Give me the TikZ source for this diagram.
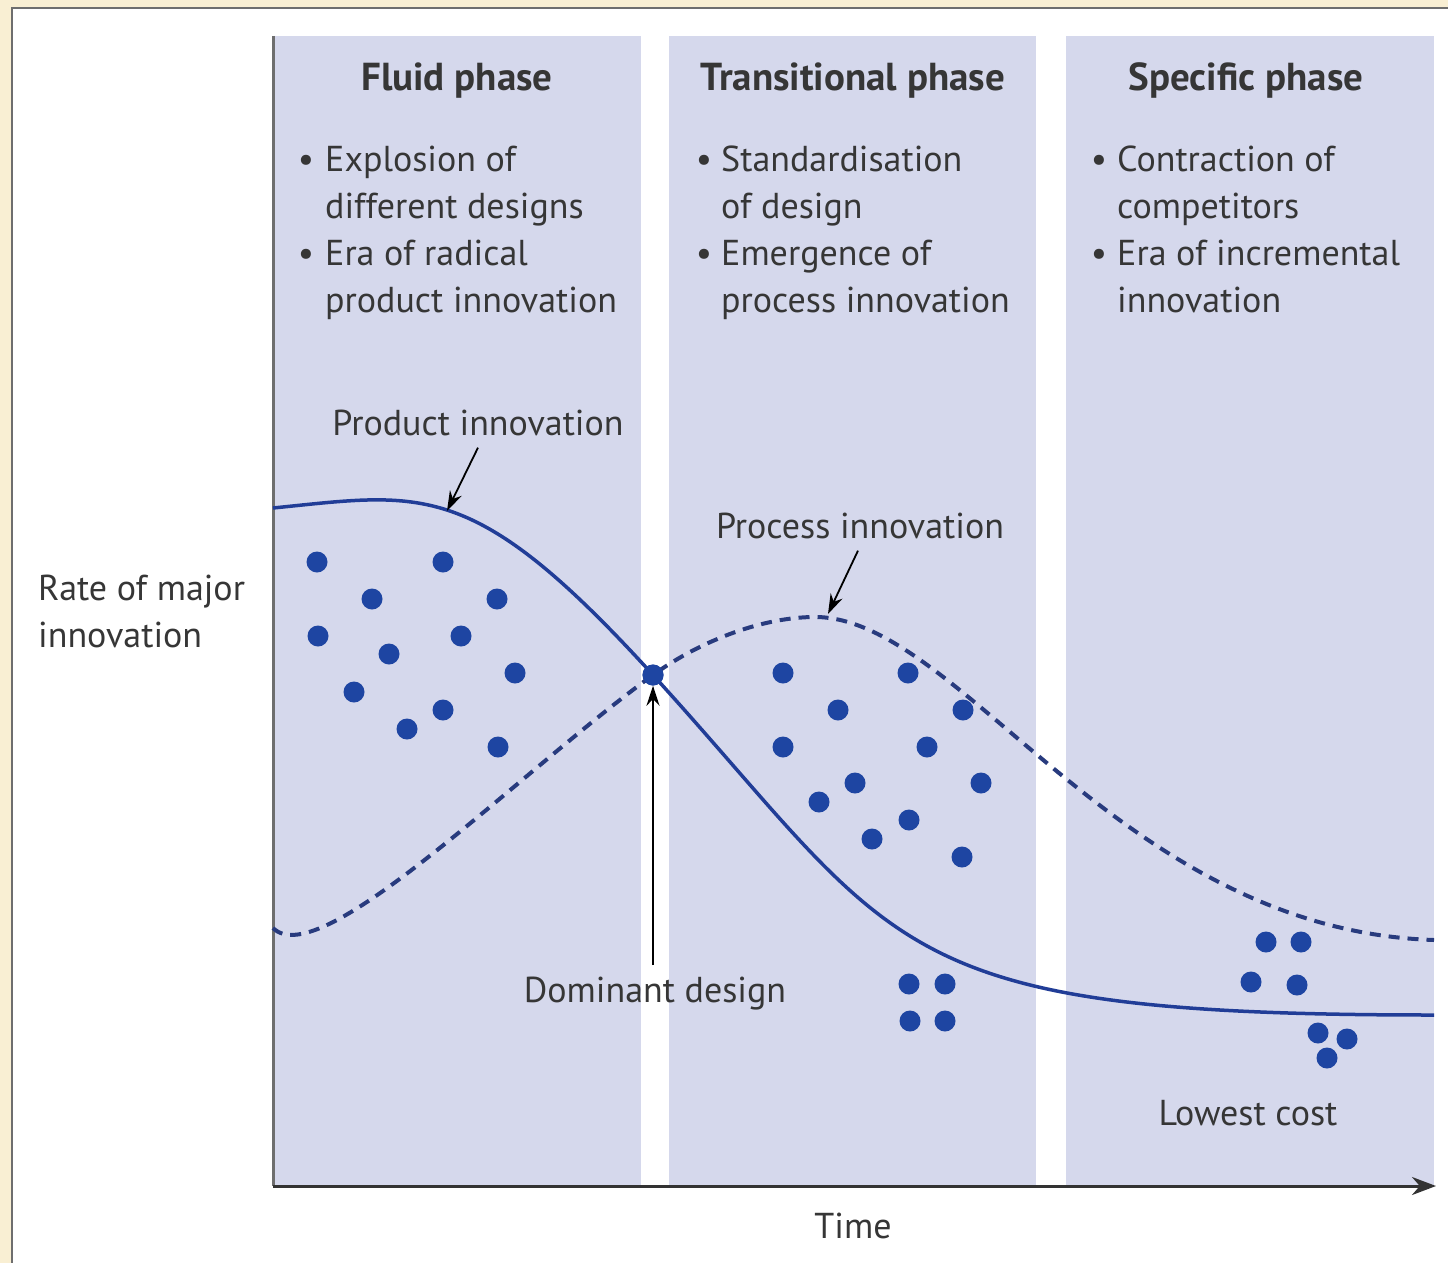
\documentclass[tikz,border=0pt]{standalone}
\usepackage{fontspec}
\setmainfont{PT Sans}
\usetikzlibrary{arrows.meta}
\definecolor{cream}{HTML}{F9EFD3}
\definecolor{band}{HTML}{D5D8EC}
\definecolor{dotblue}{HTML}{1E45A2}
\definecolor{curveblue}{HTML}{213D97}
\definecolor{dashblue}{HTML}{283B7E}
\definecolor{txt}{HTML}{363636}
\definecolor{framegray}{HTML}{6E6E6E}
\tikzset{
  body/.style={font=\fontsize{36}{45}\selectfont, text=txt, inner sep=0pt},
  title/.style={font=\fontsize{39}{46}\selectfont\bfseries, text=txt, inner sep=0pt},
  bandbox/.style={fill=band, draw=none},
  bigdot/.style={circle, fill=dotblue, minimum size=21pt, inner sep=0pt},
  prodcurve/.style={draw=curveblue, line width=3.5pt},
  proccurve/.style={draw=dashblue, line width=4pt, dash pattern=on 11pt off 8pt},
  pointer/.style={draw=black, line width=1.8pt, -{Stealth[length=20pt,width=13pt]}},
  axisline/.style={draw=framegray, line width=3pt},
}
\begin{document}
\begin{tikzpicture}[x=1pt,y=-1pt]
\useasboundingbox (0,0) rectangle (1448,1263);
\fill[cream] (0,0) rectangle (1448,1263);
\fill[white] (12,8) rectangle (1448,1263);
\draw[framegray, line width=2.5pt] (12,1263) -- (12,8) -- (1448,8);
% bands
\fill[bandbox] (273,36) rectangle (641,1186);
\fill[bandbox] (669,36) rectangle (1036,1186);
\fill[bandbox] (1066,36) rectangle (1434,1186);
% titles
\node[title, anchor=base] (t1) at (457,90) {Fluid phase};
\node[title, anchor=base] (t2) at (853,90) {Transitional phase};
\node[title, anchor=base] (t3) at (1246,90) {Specific phase};
% bullets band 1
\node[body, anchor=base] (b1a) at (306,171) {•};
\node[body, anchor=base west] (l1a) at (325,171) {Explosion of};
\node[body, anchor=base west] (l1b) at (325,218) {different designs};
\node[body, anchor=base] (b1b) at (306,265) {•};
\node[body, anchor=base west] (l1c) at (325,265) {Era of radical};
\node[body, anchor=base west] (l1d) at (325,312) {product innovation};
% bullets band 2
\node[body, anchor=base] (b2a) at (704,171) {•};
\node[body, anchor=base west] (l2a) at (721,171) {Standardisation};
\node[body, anchor=base west] (l2b) at (721,218) {of design};
\node[body, anchor=base] (b2b) at (704,265) {•};
\node[body, anchor=base west] (l2c) at (721,265) {Emergence of};
\node[body, anchor=base west] (l2d) at (721,312) {process innovation};
% bullets band 3
\node[body, anchor=base] (b3a) at (1099,171) {•};
\node[body, anchor=base west] (l3a) at (1117,171) {Contraction of};
\node[body, anchor=base west] (l3b) at (1117,218) {competitors};
\node[body, anchor=base] (b3b) at (1099,265) {•};
\node[body, anchor=base west] (l3c) at (1117,265) {Era of incremental};
\node[body, anchor=base west] (l3d) at (1117,312) {innovation};
% y label
\node[body, anchor=base west] (y1) at (38,600) {Rate of major};
\node[body, anchor=base west] (y2) at (38,647) {innovation};
% axes
\draw[axisline] (273,36) -- (273,1186);
\coordinate (xend) at (1436,1186);
\coordinate (orig) at (273,1186);
\draw[axisline, draw=black!80, -{Stealth[length=24pt,width=18pt]}] (orig) -- (xend);
\node[body, anchor=base] (time) at (853,1238) {Time};
% curves
\node[bigdot] (dd) at (653,675) {};
\draw[proccurve] (273,928) .. controls (320,975) and (520,771) .. (dd.center)
  .. controls (703,639) and (765,617) .. (815,617)
  .. controls (960,617) and (1120,930) .. (1434,940);
\draw[prodcurve] (273,508) .. controls (423,493) and (473,477) .. (dd.center)
  .. controls (903,950) and (884,1015) .. (1434,1015);
\node[bigdot] (dd2) at (653,675) {};
% labels with pointers
\node[body, anchor=base] (prodlab) at (478,435) {Product innovation};
\coordinate (prodtip) at (447,511);
\draw[pointer] (prodlab.south) ++(0,-12pt) -- (prodtip);
\node[body, anchor=base] (proclab) at (860,538) {Process innovation};
\coordinate (proctip) at (828,614);
\draw[pointer] (proclab.south) ++(-2pt,-12pt) -- (proctip);
\node[body, anchor=base] (ddlab) at (655,1002) {Dominant design};
\draw[pointer] (653,965) -- (dd2.south);
\node[body, anchor=base] (lowest) at (1248,1125) {Lowest cost};
% dots fluid
\foreach \i/\x/\y in {1/317/562, 2/443/562, 3/372/599, 4/497/599, 5/318/636, 6/461/636, 7/389/654, 8/515/673, 9/354/692, 10/443/710, 11/407/729, 12/498/747}
  \node[bigdot] (fd\i) at (\x,\y) {};
% dots transitional
\foreach \i/\x/\y in {1/783/673, 2/908/673, 3/838/710, 4/963/710, 5/783/747, 6/927/747, 7/855/783, 8/981/783, 9/819/802, 10/909/820, 11/872/839, 12/962/857, 13/909/984, 14/945/984, 15/910/1021, 16/945/1021}
  \node[bigdot] (td\i) at (\x,\y) {};
% dots specific
\foreach \i/\x/\y in {1/1266/942, 2/1301/942, 3/1251/982, 4/1297/985, 5/1318/1033, 6/1347/1039, 7/1327/1058}
  \node[bigdot] (sd\i) at (\x,\y) {};
\end{tikzpicture}
\end{document}
